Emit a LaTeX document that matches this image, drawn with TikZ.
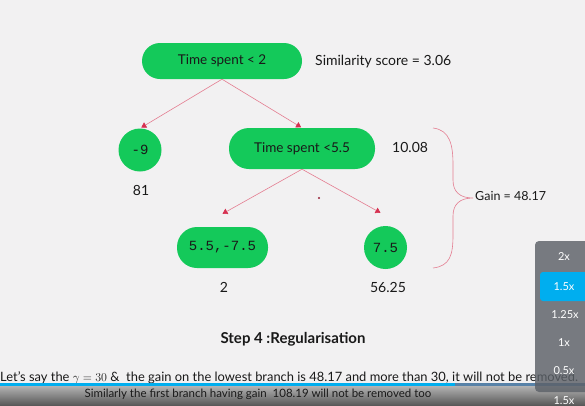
\documentclass[tikz,border=0pt]{standalone}
\usepackage{fontspec}
\setmainfont{Lato}
\newfontfamily\MonoFont{Liberation Mono}
\usetikzlibrary{arrows.meta}
\definecolor{BackClr}{RGB}{242,241,242}
\definecolor{NodeClr}{RGB}{20,201,90}
\definecolor{EdgeClr}{RGB}{228,125,145}
\definecolor{TipClr}{RGB}{214,48,80}
\definecolor{TextClr}{RGB}{25,25,25}
\definecolor{BarClr}{RGB}{0,174,239}
\definecolor{RestClr}{RGB}{88,130,168}
\definecolor{MenuClr}{RGB}{92,97,104}

\tikzset{
  SplitNode/.style={fill=NodeClr, text=TextClr, rounded corners=18pt,
    minimum height=36pt, inner sep=0pt, font=\fontsize{13.5}{15}\selectfont},
  LeafNode/.style={circle, fill=NodeClr, text=TextClr, minimum size=43pt,
    inner sep=0pt, font=\MonoFont\fontsize{14}{16}\selectfont},
  ScoreText/.style={text=TextClr, inner sep=0pt, font=\fontsize{14}{16}\selectfont},
  BranchLine/.style={draw=EdgeClr, line width=0.6pt,
    -{Triangle[length=5pt,width=6pt,color=TipClr]}},
  MenuText/.style={text=white, inner sep=0pt, font=\fontsize{11}{13}\selectfont}
}

\begin{document}
\begin{tikzpicture}[x=1pt,y=-1pt]
\useasboundingbox[fill=BackClr] (0,0) rectangle (585,405);

\node[SplitNode, minimum width=160pt] (Root) at (222,61) {Time spent < 2};
\node[ScoreText, anchor=west] (RootScore) at (315,62) {Similarity score = 3.06};

\node[LeafNode] (LeafA) at (140,150) {-9};
\node[ScoreText] (LeafAScore) at (141,190) {81};

\node[SplitNode, minimum width=146pt, minimum height=41pt, rounded corners=20pt] (Split) at (302,148.5) {Time spent <5.5};
\node[ScoreText, anchor=west] (SplitScore) at (392,147) {10.08};

\node[SplitNode, minimum width=91pt, minimum height=41pt, rounded corners=20pt,
  font=\MonoFont\fontsize{14}{16}\selectfont] (LeafB) at (222.5,247.5) {5.5,-7.5};
\node[ScoreText] (LeafBScore) at (224,287) {2};

\node[LeafNode] (LeafC) at (385.5,247.5) {7.5};
\node[ScoreText] (LeafCScore) at (388,287) {56.25};

\draw[BranchLine, shorten >=1.5pt] (Root.south) -- (LeafA.north);
\draw[BranchLine, shorten >=1pt] (Root.south) -- (Split.north);
\draw[BranchLine] (Split.south) -- ([yshift=13pt]LeafB.north);
\draw[BranchLine] (Split.south) -- ([xshift=-5pt,yshift=13pt]LeafC.north);

\fill[TipClr!70!black] (319,198) circle (1.2pt);

\draw[EdgeClr, line width=0.6pt] (433,128) .. controls (450,130) and (453,145) .. (453,165)
  -- (453,180) .. controls (453,192) and (460,198) .. (473,198)
  .. controls (460,198) and (453,204) .. (453,216)
  -- (453,235) .. controls (453,255) and (450,266) .. (433,268);
\node[ScoreText, anchor=west, font=\fontsize{12.5}{15}\selectfont] (Gain) at (475,196) {Gain = 48.17};

\node[text=TextClr, inner sep=0pt, font=\bfseries\fontsize{15}{17}\selectfont] (StepTitle) at (293,339) {Step 4 :Regularisation};

\node[text=TextClr, inner sep=0pt, anchor=base west, font=\fontsize{12.9}{14}\selectfont] (LineOne) at (0,381)
  {Let's say the $\gamma = 30$ $\&$\ \ the gain on the lowest branch is 48.17 and more than 30, it will not be removed.};

\fill[BarClr] (0,382.5) rectangle (455,386);
\fill[RestClr] (455,382.5) rectangle (585,386);
\shade[top color=black!30, bottom color=black!65] (0,386) rectangle (585,405);
\node[text=TextClr, inner sep=0pt, font=\fontsize{11.5}{13}\selectfont] (LineTwo) at (258,394)
  {Similarly the first branch having gain\ \ 108.19 will not be removed too};

\fill[MenuClr, fill opacity=0.82, rounded corners=4pt] (535,241) rectangle (600,392);
\node[MenuText] (SpeedA) at (564,257) {2x};
\node[MenuText, fill=BarClr, minimum width=48pt, minimum height=29pt, rounded corners=3pt] (SpeedB) at (564,286.5) {1.5x};
\node[MenuText] (SpeedC) at (565,315) {1.25x};
\node[MenuText] (SpeedD) at (564,343) {1x};
\node[MenuText] (SpeedE) at (564,371) {0.5x};
\node[MenuText] (SpeedF) at (564,401) {1.5x};
\end{tikzpicture}
\end{document}
